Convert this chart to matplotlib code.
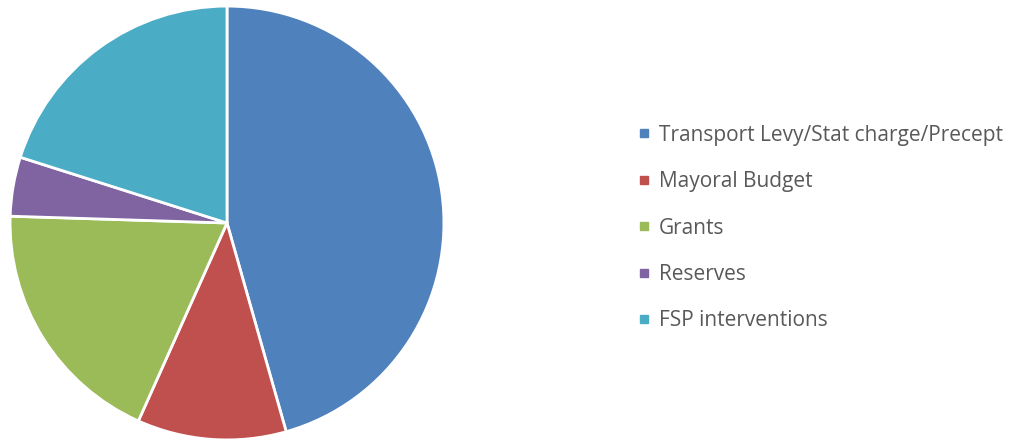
import matplotlib.pyplot as plt
from matplotlib.lines import Line2D

# funding sources (share of total)
labels = ["Transport Levy/Stat charge/Precept", "Mayoral Budget", "Grants",
          "Reserves", "FSP interventions"]
shares = [45.6, 11.1, 18.8, 4.4, 20.1]
colors = ["#4F81BD", "#C0504D", "#9BBB59", "#8064A2", "#4BACC6"]

plt.rcParams['font.family'] = ['Open Sans', 'DejaVu Sans']

fig = plt.figure(figsize=(10.12, 4.42), dpi=100)
# pie centre ~ (227, 223) px, radius ~218 px
ax = fig.add_axes([9 / 1012, 1 - 441 / 442, 436 / 1012, 436 / 442])
ax.pie(shares, colors=colors, startangle=90, counterclock=False,
       wedgeprops=dict(edgecolor="white", linewidth=2))
ax.set_xlim(-1.005, 1.005)
ax.set_ylim(-1.005, 1.005)
ax.set_aspect("equal")

handles = [Line2D([], [], marker="s", linestyle="", markersize=6,
                  markerfacecolor=c, markeredgecolor=c) for c in colors]
fig.legend(handles, labels, loc="center left", bbox_to_anchor=(620 / 1012, 0.484),
           frameon=False, fontsize=15, labelcolor="#595959",
           handlelength=0.5, handletextpad=0.45, labelspacing=1.22)

fig.savefig("out.png", dpi=100)
